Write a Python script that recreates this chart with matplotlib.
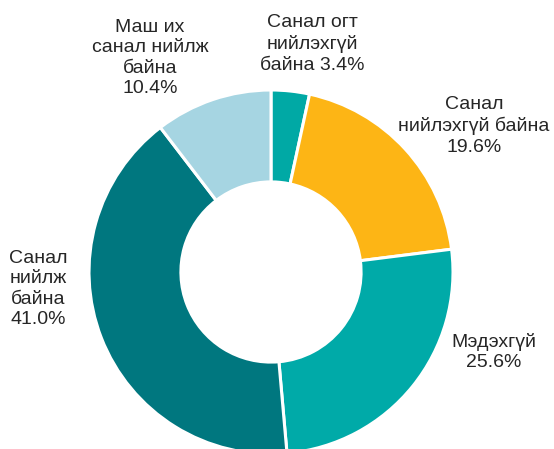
import matplotlib
matplotlib.use("Agg")
import matplotlib.pyplot as plt

plt.rcParams['font.family'] = ['Liberation Sans', 'DejaVu Sans']

labels = ["Санал огт\nнийлэхгүй\nбайна 3.4%",
          "Санал\nнийлэхгүй байна\n19.6%",
          "Мэдэхгүй\n25.6%",
          "Санал\nнийлж\nбайна\n41.0%",
          "Маш их\nсанал нийлж\nбайна\n10.4%"]
values = [3.4, 19.6, 25.6, 41.0, 10.4]
colors = ["#00A9A5", "#FDB515", "#00AAA8", "#00777F", "#A6D5E2"]

W, H = 554, 449
cx, cy, r = 271, 272, 182  # pie centre / radius in pixels

fig = plt.figure(figsize=(W / 100, H / 100), dpi=100)
ax = fig.add_axes([0, 0, 1, 1])
ax.pie(values, colors=colors, startangle=90, counterclock=False, radius=1,
       wedgeprops=dict(width=0.505, edgecolor='white', linewidth=2.2))
ax.set_xlim(-cx / r, (W - cx) / r)
ax.set_ylim(-(H - cy) / r, cy / r)
ax.set_aspect('equal')
ax.axis('off')

# label centres in pixel coords
label_pos = [(312, 44), (474, 126), (494, 352), (38, 289), (150, 58)]
for txt, (px, py) in zip(labels, label_pos):
    fig.text(px / W, 1 - py / H, txt, ha='center', va='center',
             multialignment='center', fontsize=14, color='#262626',
             linespacing=1.28)

fig.savefig("out.png", dpi=100)
